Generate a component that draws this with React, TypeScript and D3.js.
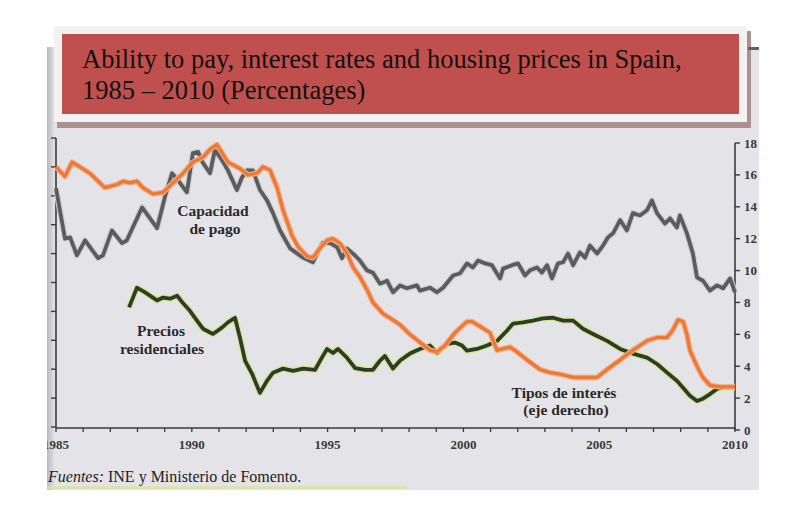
import React from "react";
import * as d3 from "d3";

// Capacidad de pago (left axis)
const capacidadYears = [1985.0, 1985.33, 1985.52, 1985.77, 1986.07, 1986.55, 1986.73, 1987.06, 1987.43, 1987.61, 1988.17, 1988.72, 1989.01, 1989.27, 1989.57, 1989.82, 1990.04, 1990.23, 1990.41, 1990.67, 1990.85, 1991.11, 1991.33, 1991.66, 1991.85, 1992.03, 1992.25, 1992.51, 1992.77, 1992.99, 1993.25, 1993.62, 1994.09, 1994.46, 1994.61, 1994.83, 1995.09, 1995.35, 1995.53, 1995.71, 1995.94, 1996.19, 1996.45, 1996.67, 1996.93, 1997.19, 1997.41, 1997.67, 1997.92, 1998.29, 1998.4, 1998.77, 1999.03, 1999.25, 1999.62, 1999.88, 2000.13, 2000.35, 2000.54, 2000.8, 2001.05, 2001.35, 2001.46, 2001.79, 2002.01, 2002.27, 2002.45, 2002.71, 2002.89, 2003.08, 2003.26, 2003.48, 2003.67, 2003.85, 2004.04, 2004.29, 2004.48, 2004.66, 2004.92, 2005.14, 2005.32, 2005.51, 2005.77, 2006.02, 2006.24, 2006.5, 2006.76, 2006.94, 2007.13, 2007.24, 2007.42, 2007.61, 2007.86, 2007.97, 2008.23, 2008.45, 2008.6, 2008.82, 2009.08, 2009.34, 2009.56, 2009.82, 2010.0];
const capacidadValues = [41.3, 32.6, 32.8, 29.7, 32.3, 29.2, 29.7, 34.0, 31.8, 32.3, 38.0, 34.4, 39.8, 43.9, 42.2, 40.6, 47.4, 47.6, 45.7, 43.9, 47.9, 46.2, 44.4, 41.0, 43.2, 44.4, 44.4, 41.0, 39.2, 37.0, 34.0, 30.9, 29.3, 28.5, 30.0, 31.9, 31.8, 31.1, 29.2, 30.9, 30.0, 28.8, 27.1, 26.7, 24.8, 25.3, 23.3, 24.5, 24.0, 24.5, 23.6, 24.1, 23.3, 24.1, 26.2, 26.6, 28.3, 27.6, 28.8, 28.3, 28.0, 25.7, 27.4, 28.0, 28.3, 26.2, 27.1, 27.6, 26.7, 28.0, 25.7, 28.3, 28.5, 30.0, 28.0, 30.2, 29.3, 31.4, 30.0, 31.4, 32.8, 33.5, 35.8, 34.0, 37.0, 36.6, 37.5, 39.2, 37.0, 36.3, 35.2, 36.1, 34.5, 36.6, 33.5, 30.0, 25.9, 25.3, 23.6, 24.5, 24.0, 25.7, 23.3];

// Tipos de interés (right axis, %)
const tiposYears = [1985.0, 1985.33, 1985.59, 1985.88, 1986.25, 1986.8, 1987.25, 1987.47, 1987.72, 1987.98, 1988.2, 1988.57, 1988.94, 1989.31, 1989.68, 1990.04, 1990.41, 1990.67, 1990.93, 1991.11, 1991.33, 1991.77, 1992.07, 1992.4, 1992.62, 1992.88, 1993.14, 1993.36, 1993.69, 1993.91, 1994.24, 1994.46, 1994.72, 1994.98, 1995.2, 1995.46, 1995.71, 1995.94, 1996.19, 1996.45, 1996.67, 1997.04, 1997.41, 1997.67, 1998.03, 1998.4, 1998.77, 1999.03, 1999.32, 1999.69, 2000.13, 2000.32, 2000.61, 2000.98, 2001.24, 2001.46, 2001.72, 2001.97, 2002.34, 2002.82, 2003.19, 2003.56, 2004.04, 2004.55, 2004.92, 2005.29, 2005.77, 2006.24, 2006.76, 2007.13, 2007.5, 2007.72, 2007.9, 2008.09, 2008.23, 2008.34, 2008.6, 2008.82, 2009.08, 2009.45, 2010.0];
const tiposValues = [16.5, 15.9, 16.8, 16.5, 16.1, 15.2, 15.4, 15.6, 15.5, 15.6, 15.2, 14.8, 14.9, 15.5, 16.1, 16.8, 17.1, 17.6, 17.9, 17.4, 16.8, 16.4, 16.0, 16.1, 16.5, 16.3, 15.2, 13.8, 12.2, 11.5, 10.9, 10.8, 11.4, 11.9, 12.0, 11.7, 11.1, 10.2, 9.6, 8.8, 8.0, 7.3, 6.9, 6.6, 6.0, 5.5, 5.0, 4.9, 5.3, 6.1, 6.8, 6.8, 6.5, 6.1, 5.0, 5.1, 5.2, 4.9, 4.4, 3.8, 3.6, 3.5, 3.3, 3.3, 3.3, 3.8, 4.4, 5.0, 5.6, 5.8, 5.8, 6.3, 6.9, 6.8, 6.0, 5.0, 4.0, 3.3, 2.8, 2.7, 2.7];

// Precios residenciales (left axis)
const preciosYears = [1987.69, 1987.98, 1988.28, 1988.72, 1988.94, 1989.2, 1989.46, 1989.68, 1989.93, 1990.19, 1990.41, 1990.78, 1991.11, 1991.33, 1991.59, 1991.77, 1991.96, 1992.22, 1992.51, 1992.77, 1992.99, 1993.36, 1993.73, 1994.09, 1994.54, 1994.79, 1994.98, 1995.2, 1995.38, 1995.71, 1996.01, 1996.38, 1996.67, 1996.93, 1997.11, 1997.41, 1997.67, 1998.03, 1998.4, 1998.77, 1999.03, 1999.4, 1999.69, 1999.95, 2000.13, 2000.5, 2000.87, 2001.24, 2001.61, 2001.83, 2002.19, 2002.56, 2002.93, 2003.3, 2003.67, 2004.04, 2004.4, 2004.77, 2005.29, 2005.77, 2006.24, 2006.76, 2007.13, 2007.5, 2007.86, 2008.12, 2008.34, 2008.6, 2008.82, 2009.08, 2009.34, 2009.56, 2010.0];
const preciosValues = [20.7, 24.1, 23.3, 21.9, 22.4, 22.2, 22.7, 21.4, 20.1, 18.4, 17.0, 16.1, 17.2, 18.1, 18.9, 15.5, 11.5, 9.2, 5.9, 8.0, 9.4, 10.1, 9.7, 10.1, 9.9, 12.0, 13.5, 12.8, 13.5, 12.0, 10.2, 9.9, 9.9, 11.5, 12.3, 10.1, 11.5, 12.7, 13.5, 14.1, 12.8, 14.4, 14.6, 14.1, 13.2, 13.5, 14.1, 14.9, 16.7, 17.9, 18.1, 18.4, 18.8, 18.9, 18.4, 18.4, 17.0, 16.1, 14.9, 13.5, 12.7, 12.0, 10.9, 9.4, 8.0, 6.6, 5.4, 4.5, 4.9, 5.7, 6.6, 6.9, 6.9];

const xTickYears = [1985, 1990, 1995, 2000, 2005, 2010];
const rightTicks = [0, 2, 4, 6, 8, 10, 12, 14, 16, 18];
const leftTicks = [0, 5, 10, 15, 20, 25, 30, 35, 40, 45, 50];

const titleLines = ["Ability to pay, interest rates and housing prices in Spain,", "1985 \u2013 2010 (Percentages)"];

const W = 787;
const H = 524;

export default function App() {
  const x = d3.scaleLinear().domain([1985, 2010]).range([56, 735]);
  const yL = d3.scaleLinear().domain([0, 50]).range([427, 138]);
  const yR = d3.scaleLinear().domain([0, 18]).range([430, 143]);
  const axisY = 428;

  const mk = (years: number[], vals: number[], y: d3.ScaleLinear<number, number>) =>
    d3
      .line<number>()
      .x((_, i) => x(years[i]))
      .y((v) => y(v))
      .curve(d3.curveLinear)(vals) || "";

  const capPath = mk(capacidadYears, capacidadValues, yL);
  const tipPath = mk(tiposYears, tiposValues, yR);
  const prePath = mk(preciosYears, preciosValues, yL);

  const minorYears = d3.range(1985, 2011);
  const serif = "'Liberation Serif', 'Times New Roman', serif";

  return (
    <svg
      width={W}
      height={H}
      style={{ position: "absolute", left: 0, top: 0, background: "#ffffff" }}
      fontFamily={serif}
    >
      <defs>
        <clipPath id="scan">
          <rect x={47} y={47} width={712} height={443} />
        </clipPath>
        <linearGradient id="leftEdge" x1="0" x2="1" y1="0" y2="0">
          <stop offset="0" stopColor="#b9b9bd" />
          <stop offset="1" stopColor="#e4e4e8" />
        </linearGradient>
      </defs>

      {/* scanned page */}
      <rect x={47} y={47} width={712} height={443} fill="#e4e4e8" />
      <rect x={47} y={47} width={8} height={443} fill="url(#leftEdge)" />
      <rect x={47} y={486} width={360} height={3} fill="#d6e3a3" opacity={0.8} />

      <g clipPath="url(#scan)">
        {/* left axis */}
        <line x1={56} x2={56} y1={yL(50)} y2={axisY} stroke="#3a3a3a" strokeWidth={1.6} />
        {leftTicks.map((t) => (
          <line key={t} x1={51} x2={56} y1={yL(t)} y2={yL(t)} stroke="#3a3a3a" strokeWidth={1.4} />
        ))}
        {/* right axis */}
        <line x1={735} x2={735} y1={yR(18)} y2={axisY + 2} stroke="#3a3a3a" strokeWidth={1.6} />
        {rightTicks.map((t) => (
          <line key={t} x1={735} x2={740} y1={yR(t)} y2={yR(t)} stroke="#3a3a3a" strokeWidth={1.4} />
        ))}
        {rightTicks.map((t) => (
          <text key={t} x={744} y={yR(t) + 4.5} fontSize={13} fontWeight="bold" fill="#3a3a3a">
            {t}
          </text>
        ))}
        {/* x axis */}
        <line x1={56} x2={735} y1={axisY} y2={axisY} stroke="#3a3a3a" strokeWidth={1.6} />
        {minorYears.map((yr) => (
          <line key={yr} x1={x(yr)} x2={x(yr)} y1={axisY} y2={axisY + 4} stroke="#3a3a3a" strokeWidth={1.3} />
        ))}
        {xTickYears.map((yr) => (
          <text key={yr} x={x(yr)} y={449} fontSize={13} fontWeight="bold" fill="#3a3a3a" textAnchor="middle">
            {yr}
          </text>
        ))}

        {/* series */}
        <path d={capPath} fill="none" stroke="#cfcfd2" strokeWidth={6} strokeLinejoin="round" />
        <path d={capPath} fill="none" stroke="#5c5c5c" strokeWidth={3.8} strokeLinejoin="round" />
        <path d={prePath} fill="none" stroke="#d3ea8e" strokeWidth={6.5} strokeLinejoin="round" />
        <path d={prePath} fill="none" stroke="#2f3b2c" strokeWidth={3.8} strokeLinejoin="round" />
        <path d={tipPath} fill="none" stroke="#f3a994" strokeWidth={5.5} strokeLinejoin="round" />
        <path d={tipPath} fill="none" stroke="#ee7a2e" strokeWidth={3.2} strokeLinejoin="round" />

        {/* labels */}
        <g fontSize={15.5} fontWeight="bold" fill="#2a2a2a" textAnchor="middle">
          <text x={213} y={216}>Capacidad</text>
          <text x={215} y={234}>de pago</text>
          <text x={161} y={336}>Precios</text>
          <text x={162} y={354}>residenciales</text>
          <text x={564} y={398}>Tipos de interés</text>
          <text x={566} y={415}>(eje derecho)</text>
        </g>

        <text x={48} y={482} fontSize={16} fill="#222222">
          <tspan fontStyle="italic">Fuentes:</tspan>
          <tspan> INE y Ministerio de Fomento.</tspan>
        </text>
      </g>

      {/* title box */}
      <rect x={57} y={31} width={694} height={97} fill="#ad9192" />
      <rect x={54} y={26} width={693} height={96} fill="#f2f2f2" />
      <rect x={62} y={34} width={677} height={80} fill="#c0504d" />
      <rect x={748} y={47} width={11} height={3} fill="#5a6470" />
      <g fontSize={26.5} fill="#111111">
        <text x={82} y={68}>{titleLines[0]}</text>
        <text x={82} y={99}>{titleLines[1]}</text>
      </g>
    </svg>
  );
}
